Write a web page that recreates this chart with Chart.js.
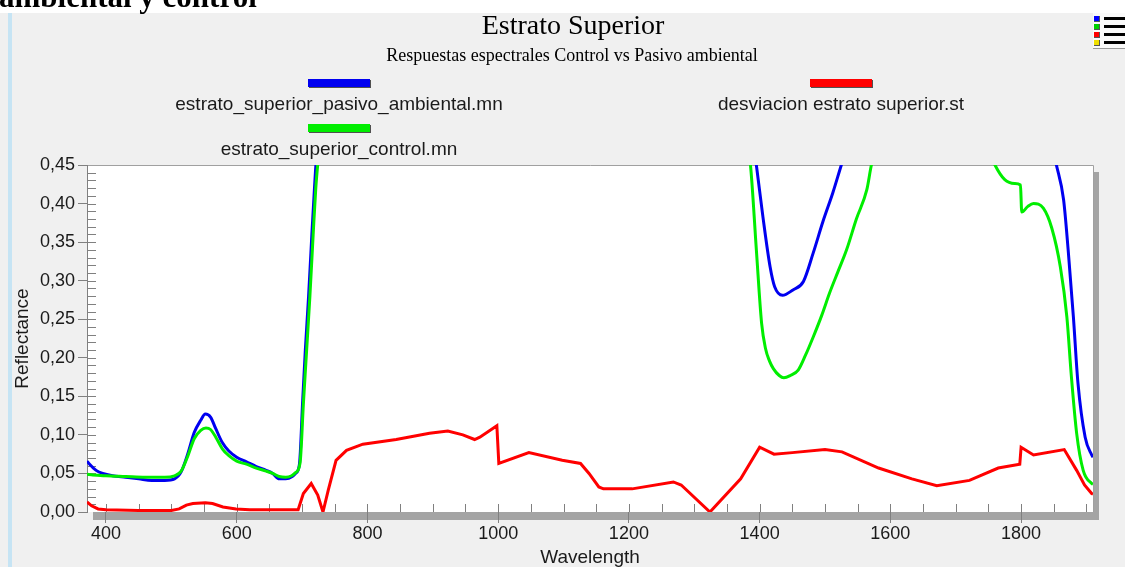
<!DOCTYPE html>
<html><head><meta charset="utf-8">
<script src="https://cdn.jsdelivr.net/npm/chart.js@4.4.0/dist/chart.umd.min.js"></script>
<style>
html,body{margin:0;padding:0;width:1125px;height:567px;overflow:hidden;background:#fff;}
#panel{position:absolute;left:0;top:13px;width:1125px;height:554px;background:#f0f0f0;}
#bline{position:absolute;left:8px;top:13px;width:4px;height:554px;background:#c6e4f4;}
#doc{position:absolute;left:-1px;top:-19px;font:bold 31px "Liberation Serif",serif;line-height:31px;color:#000;white-space:nowrap;z-index:3;}
#wrap{position:absolute;left:0;top:0;width:1125px;height:567px;z-index:2;}
#icon{position:absolute;left:1093px;top:13px;width:32px;height:35px;background:#fafafa;border-bottom:1px solid #999;z-index:4;}
.sq{position:absolute;left:1px;width:6px;height:6px;border-right:1px solid #555;border-bottom:1px solid #555;box-sizing:border-box;}
.ln{position:absolute;left:11px;width:21px;height:3px;background:#000;}
</style></head>
<body>
<div id="panel"></div>
<div id="bline"></div>
<div id="doc">ambiental y control</div>
<div id="icon">
  <div class="sq" style="top:3px;background:#0000ff"></div><div class="ln" style="top:4px"></div>
  <div class="sq" style="top:11px;background:#00d000"></div><div class="ln" style="top:12px"></div>
  <div class="sq" style="top:19px;background:#ff0000"></div><div class="ln" style="top:20px"></div>
  <div class="sq" style="top:27px;background:#f0e000"></div><div class="ln" style="top:28px"></div>
</div>
<div id="wrap"><canvas id="c" width="1125" height="567"></canvas></div>
<script>
// ---- data ----
const chartTitle = "Estrato Superior";
const chartSubtitle = "Respuestas espectrales Control vs Pasivo ambiental";
const seriesNames = ["estrato_superior_pasivo_ambiental.mn", "estrato_superior_control.mn", "desviacion estrato superior.st"];
const xTickValues = [400, 600, 800, 1000, 1200, 1400, 1600, 1800];
const yTickValues = [0, 0.05, 0.10, 0.15, 0.20, 0.25, 0.30, 0.35, 0.40, 0.45];

const pasivoWl = [371,375,385,395,410,430,450,470,490,505,515,525,535,545,552,560,568,578,588,600,615,630,645,655,665,675,685,690,696,701,705,710,715,719,722,728,760,850,950,1000,1100,1200,1300,1350,1375,1385,1395,1405,1416,1423,1435,1451,1467,1482,1497,1512,1525,1540,1560,1650,1750,1820,1840,1854,1865,1872,1880,1887,1898,1908,1910];
const pasivoRefl = [0.066,0.062,0.054,0.050,0.047,0.045,0.043,0.041,0.041,0.043,0.052,0.075,0.103,0.119,0.127,0.123,0.108,0.090,0.079,0.071,0.065,0.059,0.054,0.050,0.043,0.043,0.046,0.050,0.062,0.145,0.21,0.28,0.36,0.42,0.46,0.51,0.56,0.58,0.59,0.58,0.58,0.57,0.56,0.56,0.54,0.51,0.45,0.383,0.318,0.292,0.281,0.288,0.299,0.336,0.377,0.414,0.45,0.49,0.53,0.57,0.56,0.53,0.50,0.45,0.405,0.34,0.253,0.167,0.097,0.074,0.071];

const controlWl = [371,380,400,430,460,490,505,515,525,535,545,553,560,568,578,588,600,615,630,645,655,665,675,684,690,697,702,707,712,717,721,725,731,760,850,950,1000,1100,1200,1300,1350,1370,1380,1386,1395,1403,1409,1415,1421,1430,1437,1447,1459,1470,1482,1495,1507,1520,1533,1548,1564,1571,1585,1650,1720,1745,1760,1775,1790,1799,1801,1810,1819,1834,1847,1860,1870,1877,1885,1895,1908,1910];
const controlRefl = [0.049,0.048,0.047,0.046,0.045,0.045,0.047,0.053,0.072,0.095,0.106,0.109,0.107,0.097,0.082,0.073,0.066,0.062,0.057,0.053,0.050,0.046,0.045,0.047,0.051,0.064,0.14,0.21,0.28,0.36,0.42,0.46,0.51,0.54,0.56,0.57,0.56,0.56,0.55,0.54,0.53,0.51,0.48,0.45,0.34,0.245,0.212,0.196,0.186,0.177,0.174,0.177,0.184,0.203,0.227,0.255,0.284,0.312,0.34,0.38,0.418,0.45,0.49,0.52,0.50,0.48,0.45,0.431,0.426,0.424,0.389,0.396,0.400,0.394,0.368,0.318,0.253,0.175,0.102,0.054,0.037,0.036];

const desvWl = [371,378,388,400,450,500,512,523,533,552,563,579,599,620,660,694,702,714,724,732,740,752,768,793,844,895,923,946,964,972,998,1001,1047,1098,1126,1139,1154,1161,1205,1268,1280,1324,1371,1400,1422,1450,1500,1526,1582,1633,1671,1721,1765,1798,1800,1819,1866,1885,1897,1908,1910];
const desvRefl = [0.013,0.008,0.004,0.003,0.002,0.002,0.004,0.009,0.011,0.012,0.011,0.0065,0.004,0.003,0.003,0.003,0.024,0.037,0.022,0.0,0.028,0.067,0.080,0.088,0.094,0.102,0.105,0.100,0.094,0.097,0.112,0.063,0.077,0.067,0.063,0.050,0.0325,0.030,0.030,0.039,0.035,0.0,0.043,0.084,0.075,0.077,0.081,0.078,0.057,0.043,0.034,0.041,0.057,0.062,0.084,0.074,0.081,0.054,0.035,0.024,0.023];

const seriesColors = ["#0000f0", "#00ee00", "#ff0000"];

function pts(xs, ys){ return xs.map((x,i)=>({x:x, y:ys[i]})); }

const fmtY = v => v.toFixed(2).replace('.', ',');
const fmtX = v => String(Math.round(v));

const framePlugin = {
  id: 'frame',
  beforeDraw(chart){
    const {ctx, chartArea:a} = chart;
    ctx.save();
    ctx.fillStyle = '#a4a4a4';
    ctx.fillRect(a.left + 6, a.top + 7, a.right - a.left, a.bottom - a.top + 1);
    ctx.fillStyle = '#ffffff';
    ctx.fillRect(a.left, a.top, a.right - a.left, a.bottom - a.top);
    ctx.strokeStyle = '#a0a0a0';
    ctx.lineWidth = 1;
    ctx.beginPath();
    ctx.moveTo(a.left, a.top + 0.5); ctx.lineTo(a.right + 0.5, a.top + 0.5);
    ctx.lineTo(a.right + 0.5, a.bottom);
    ctx.stroke();
    ctx.restore();
  },
  beforeDatasetsDraw(chart){
    const {ctx, chartArea:a, scales} = chart;
    ctx.save();
    ctx.strokeStyle = '#808080';
    ctx.lineWidth = 1;
    ctx.beginPath();
    for (let k = 1; k <= 44; k++){
      const y = Math.round(scales.y.getPixelForValue(k/100)) + 0.5;
      ctx.moveTo(a.left, y); ctx.lineTo(a.left + 9, y);
    }
    for (let w = 400; w <= 1900; w += 50){
      const x = Math.round(scales.x.getPixelForValue(w)) + 0.5;
      ctx.moveTo(x, a.bottom); ctx.lineTo(x, a.bottom - 8);
    }
    ctx.stroke();
    ctx.restore();
  },
  afterDraw(chart){
    const {ctx} = chart;
    ctx.save();
    ctx.fillStyle = '#000';
    ctx.textAlign = 'center';
    ctx.textBaseline = 'middle';
    ctx.font = '28px "Liberation Serif", serif';
    ctx.fillText(chartTitle, 573, 27);
    ctx.font = '18px "Liberation Serif", serif';
    ctx.fillText(chartSubtitle, 572, 56);
    const items = [
      {i:0, cx:339, sy:79, ty:105},
      {i:2, cx:841, sy:79, ty:105},
      {i:1, cx:339, sy:124, ty:150}
    ];
    ctx.font = '19px "Liberation Sans", Arial, sans-serif';
    for (const it of items){
      ctx.fillStyle = '#505050';
      ctx.fillRect(it.cx - 30, it.sy + 1, 62, 8);
      ctx.fillStyle = seriesColors[it.i];
      ctx.fillRect(it.cx - 31, it.sy, 62, 8);
      ctx.fillStyle = '#1a1a1a';
      ctx.fillText(seriesNames[it.i], it.cx, it.ty);
    }
    ctx.restore();
  }
};

new Chart(document.getElementById('c'), {
  type: 'line',
  data: {
    datasets: [
      {label: seriesNames[0], data: pts(pasivoWl, pasivoRefl), borderColor: seriesColors[0], borderWidth: 3, pointRadius: 0, cubicInterpolationMode: 'monotone', clip: 0, order: 2},
      {label: seriesNames[1], data: pts(controlWl, controlRefl), borderColor: seriesColors[1], borderWidth: 3, pointRadius: 0, cubicInterpolationMode: 'monotone', clip: 0, order: 1},
      {label: seriesNames[2], data: pts(desvWl, desvRefl), borderColor: seriesColors[2], borderWidth: 3, pointRadius: 0, tension: 0, clip: 0, order: 0}
    ]
  },
  options: {
    responsive: false,
    animation: false,
    events: [],
    layout: {padding: {top: 165, left: 0, right: 32, bottom: 0}},
    plugins: {legend: {display: false}, title: {display: false}, tooltip: {enabled: false}},
    scales: {
      x: {
        type: 'linear', min: 371, max: 1910,
        afterBuildTicks: s => { s.ticks = xTickValues.map(v => ({value: v})); },
        afterFit: s => { s.height = 55; },
        grid: {drawOnChartArea: false, drawTicks: true, tickLength: 11, color: '#808080'},
        border: {display: false},
        ticks: {padding: 0, color: '#1a1a1a', font: {family: '"Liberation Sans", Arial, sans-serif', size: 18}, maxRotation: 0, autoSkip: false, callback: v => fmtX(v)},
        title: {display: true, text: 'Wavelength', color: '#1a1a1a', font: {family: '"Liberation Sans", Arial, sans-serif', size: 19, lineHeight: 1}, padding: {top: 0, bottom: 0}}
      },
      y: {
        min: 0, max: 0.45,
        afterBuildTicks: s => { s.ticks = yTickValues.map(v => ({value: v})); },
        afterFit: s => { s.width = 87; },
        grid: {drawOnChartArea: false, drawTicks: true, tickLength: 9, color: '#808080'},
        border: {display: true, color: '#808080', width: 1},
        ticks: {padding: 3, color: '#1a1a1a', font: {family: '"Liberation Sans", Arial, sans-serif', size: 18}, callback: v => fmtY(v)},
        title: {display: true, text: 'Reflectance', color: '#1a1a1a', font: {family: '"Liberation Sans", Arial, sans-serif', size: 19, lineHeight: 1}, padding: {top: 13, bottom: 0}}
      }
    }
  },
  plugins: [framePlugin]
});
</script>
</body></html>
